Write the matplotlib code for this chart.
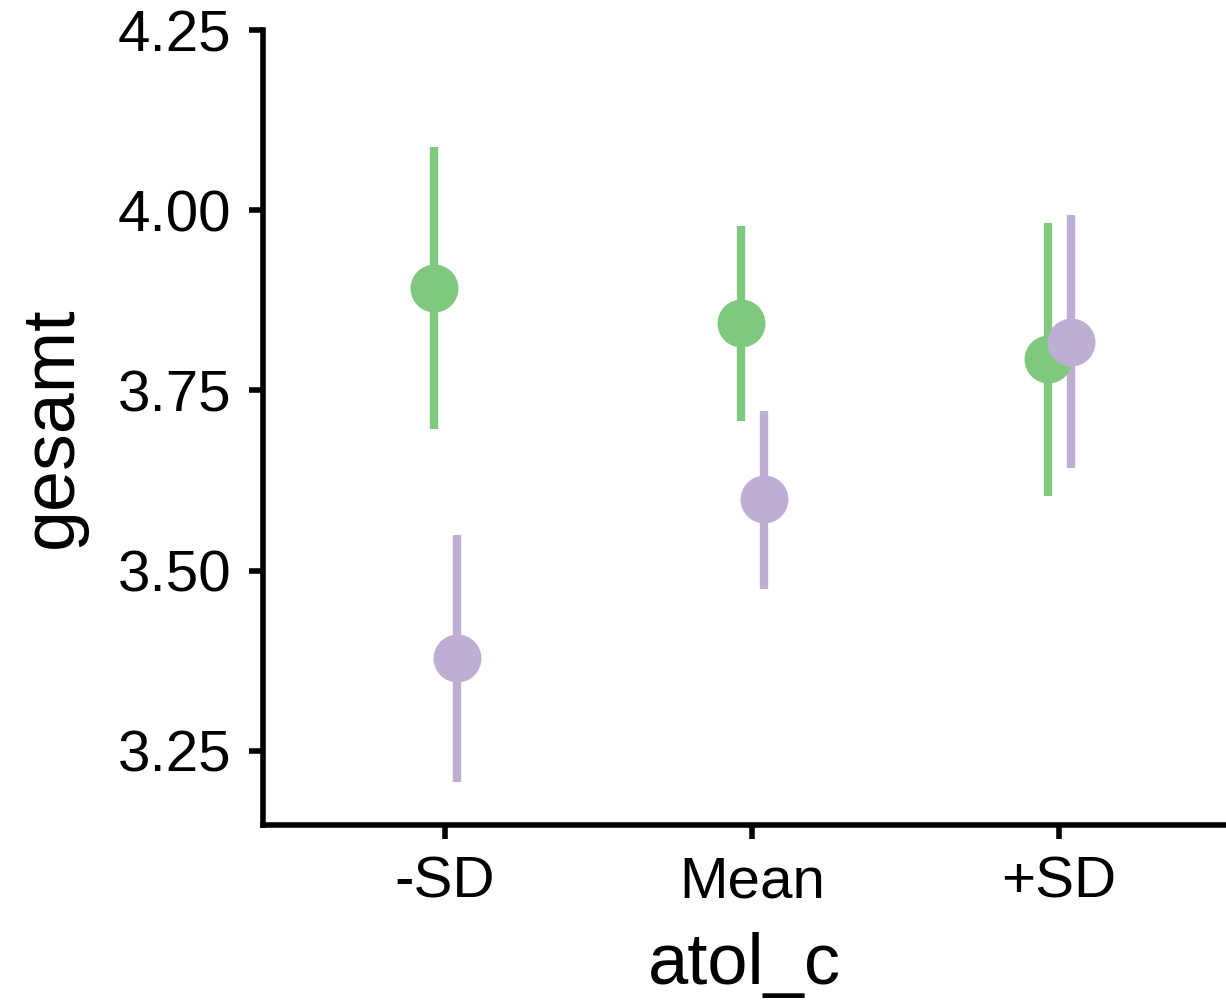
import matplotlib.pyplot as plt
import numpy as np

plt.rcParams['font.family'] = ['Liberation Sans', 'DejaVu Sans']

levels = ['-SD', 'Mean', '+SD']
groups = ['green', 'purple']
colors = ['#7fc97f', '#beaed4']

# estimates with lower / upper interval limits
est = [[3.892, 3.843, 3.793],
       [3.379, 3.599, 3.817]]
low = [[3.696, 3.707, 3.603],
       [3.207, 3.475, 3.642]]
high = [[4.088, 3.978, 3.982],
        [3.550, 3.722, 3.994]]

fig = plt.figure(figsize=(12.26, 10), dpi=100)
ax = fig.add_axes([0.2145, 0.175, 0.7855, 0.795])

x = np.arange(len(levels))
offsets = [-0.035, 0.04]
for g in range(len(groups)):
    xs = x + offsets[g]
    ax.vlines(xs, low[g], high[g], color=colors[g], lw=6, zorder=2)
    ax.plot(xs, est[g], 'o', ms=34.5, color=colors[g], mew=0, zorder=3 + g)

ax.set_xlim(-0.593, 2.544)
ax.set_ylim(3.147, 4.25)
ax.set_yticks([3.25, 3.50, 3.75, 4.00, 4.25])
ax.set_yticklabels(['3.25', '3.50', '3.75', '4.00', '4.25'])
ax.set_xticks(x)
ax.set_xticklabels(levels)

for s in ['top', 'right']:
    ax.spines[s].set_visible(False)
for s in ['left', 'bottom']:
    ax.spines[s].set_linewidth(4)
ax.tick_params(axis='both', width=4, length=10, labelsize=42, colors='black')
ax.tick_params(axis='y', pad=13)
ax.tick_params(axis='x', pad=12)

ax.set_xlabel('atol_c', fontsize=52, labelpad=16)
ax.set_ylabel('gesamt', fontsize=53, labelpad=22)

fig.savefig('out.png', dpi=100)
